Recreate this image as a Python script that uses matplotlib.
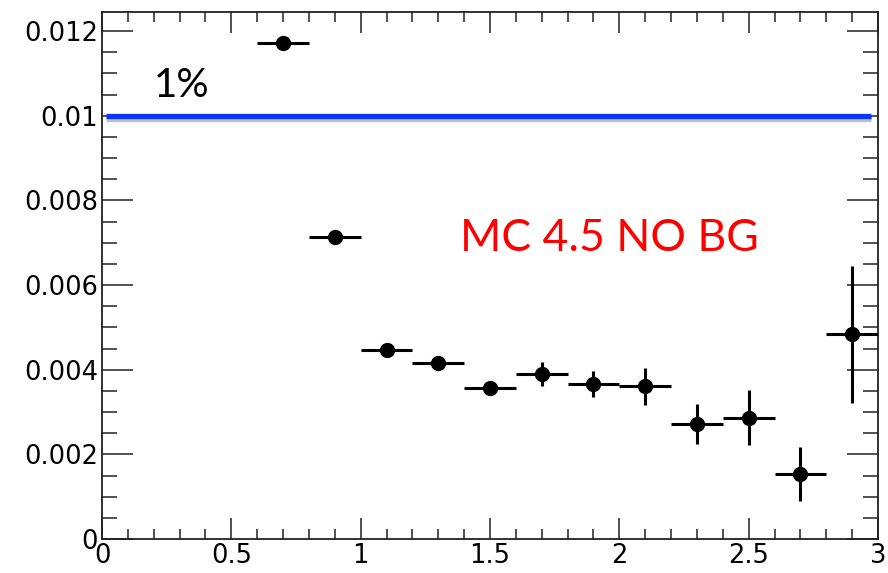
import matplotlib
matplotlib.use('Agg')
import matplotlib.pyplot as plt
import matplotlib.patheffects as pe
from matplotlib.ticker import MultipleLocator
import numpy as np

# bin centres, half-widths, values and errors
x = [0.7, 0.9, 1.1, 1.3, 1.5, 1.7, 1.9, 2.1, 2.3, 2.5, 2.7, 2.9]
x_err = [0.1] * 12
y = [0.01171, 0.00713, 0.00447, 0.00415, 0.00357, 0.00390,
     0.00366, 0.00361, 0.00272, 0.00286, 0.00154, 0.00484]
y_err = [0.00005, 0.00006, 0.00008, 0.00012, 0.00015, 0.00028,
         0.00030, 0.00044, 0.00048, 0.00065, 0.00063, 0.00162]
ref_level = 0.01

plt.rcParams['font.family'] = ['DejaVu Sans']

fig = plt.figure(figsize=(8.88, 5.73), dpi=100)
ax = fig.add_axes([0.1149, 0.0593, 0.8738, 0.9197])

ax.errorbar(x, y, xerr=x_err, yerr=y_err, fmt='o', color='black',
            markersize=10, elinewidth=2.2, capsize=0, zorder=3)

# 1% line with a soft shadow
ax.plot([0.015, 2.975], [ref_level, ref_level], color='#0a37ff', lw=3.8,
        solid_capstyle='butt', zorder=2,
        path_effects=[pe.SimpleLineShadow(offset=(0, -2.5), shadow_color='gray',
                                          alpha=0.5), pe.Normal()])

ax.text(0.2, 0.01072, '1%', fontsize=29, family=['Lato', 'DejaVu Sans'],
        ha='left', va='center')
ax.text(1.385, 0.00711, 'MC 4.5 NO BG', fontsize=32, color='#ff0000',
        family=['Lato', 'DejaVu Sans'], ha='left', va='center')

ax.set_xlim(0, 3)
ax.set_ylim(0, 0.01245)
ax.xaxis.set_minor_locator(MultipleLocator(0.1))
ax.yaxis.set_minor_locator(MultipleLocator(0.0005))
ax.set_xticks([0, 0.5, 1, 1.5, 2, 2.5, 3])
ax.set_xticklabels(['0', '0.5', '1', '1.5', '2', '2.5', '3'])
ax.set_yticks([0, 0.002, 0.004, 0.006, 0.008, 0.01, 0.012])
ax.set_yticklabels(['0', '0.002', '0.004', '0.006', '0.008', '0.01', '0.012'])

ax.tick_params(which='both', direction='in', top=True, right=True,
               labelsize=18.5, width=1.2, color='#333333')
ax.tick_params(which='major', length=22)
ax.tick_params(which='minor', length=11)
ax.tick_params(axis='x', which='major', length=15, pad=3)
ax.tick_params(axis='x', which='minor', length=7)
ax.tick_params(axis='y', pad=3)
for s in ax.spines.values():
    s.set_linewidth(1.3)
    s.set_color('#222222')

fig.savefig('out.png', dpi=100)
